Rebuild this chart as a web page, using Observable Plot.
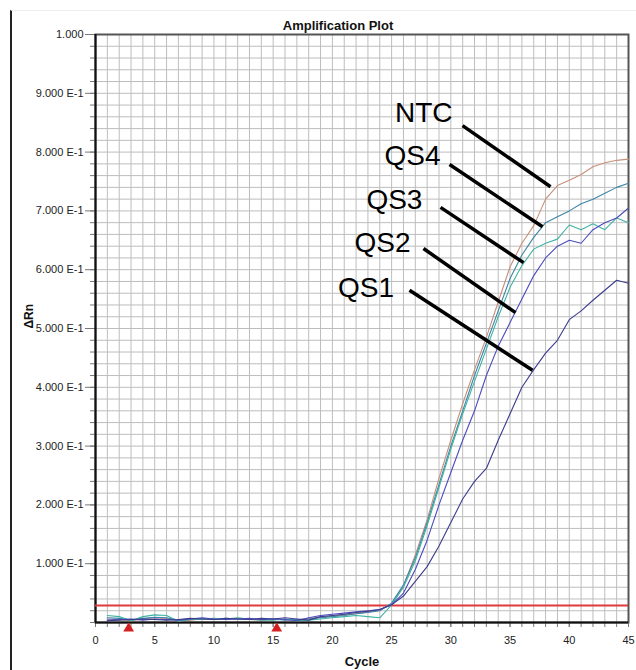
<!DOCTYPE html>
<html>
<head>
<meta charset="utf-8">
<script src="https://cdn.jsdelivr.net/npm/d3@7"></script>
<script src="https://cdn.jsdelivr.net/npm/@observablehq/plot@0.6"></script>
<style>
  html, body { margin: 0; padding: 0; background: #fff; }
  #wrap { position: relative; width: 636px; height: 670px; overflow: hidden; }
  #edge { position: absolute; left: 10px; top: 10px; width: 626px; height: 660px;
          border-left: 2px solid #222; border-top: 1px solid #eeeeee; pointer-events: none; }
  svg { font-family: "Liberation Sans", Arial, sans-serif; }
</style>
</head>
<body>
<div id="wrap"><div id="edge"></div></div>
<script>
// ---- data ----
const cycles = d3.range(1, 46); // cycles 1..45
const seriesNames = ["NTC", "QS4", "QS3", "QS2", "QS1"];
const seriesColors = ["#c8907a", "#3d84a8", "#3fb3a3", "#4b4bbf", "#3c3c8f"];

const ntc = [0.006,0.005,0.003,0.006,0.008,0.007,0.003,0.004,0.006,0.005,0.006,0.007,0.005,0.004,0.006,0.005,0.004,0.007,0.009,0.011,0.013,0.015,0.018,0.021,0.032,0.062,0.115,0.175,0.245,0.31,0.372,0.43,0.485,0.545,0.605,0.645,0.675,0.72,0.743,0.752,0.762,0.775,0.782,0.786,0.788];
const qs4 = [0.008,0.007,0.004,0.007,0.009,0.008,0.004,0.005,0.006,0.006,0.007,0.006,0.005,0.005,0.006,0.004,0.005,0.006,0.008,0.010,0.012,0.015,0.017,0.020,0.033,0.064,0.11,0.17,0.235,0.30,0.36,0.42,0.475,0.53,0.585,0.625,0.655,0.68,0.69,0.70,0.712,0.72,0.73,0.74,0.747];
const qs3 = [0.012,0.010,0.003,0.010,0.013,0.012,0.002,0.005,0.006,0.007,0.006,0.008,0.006,0.004,0.004,0.006,0.003,0.004,0.006,0.008,0.010,0.012,0.010,0.008,0.030,0.060,0.105,0.165,0.23,0.295,0.355,0.41,0.465,0.52,0.57,0.607,0.635,0.645,0.652,0.676,0.668,0.678,0.668,0.688,0.68];
const qs2 = [0.004,0.005,0.006,0.004,0.006,0.005,0.004,0.006,0.008,0.006,0.005,0.006,0.007,0.005,0.006,0.005,0.003,0.008,0.012,0.014,0.016,0.018,0.020,0.022,0.030,0.05,0.09,0.14,0.20,0.255,0.31,0.36,0.42,0.47,0.51,0.55,0.59,0.62,0.64,0.65,0.645,0.668,0.68,0.688,0.705];
const qs1 = [0.003,0.004,0.005,0.006,0.005,0.004,0.005,0.007,0.006,0.005,0.007,0.006,0.005,0.007,0.006,0.008,0.006,0.004,0.010,0.012,0.014,0.017,0.019,0.022,0.030,0.045,0.07,0.095,0.13,0.17,0.21,0.24,0.262,0.31,0.355,0.40,0.43,0.458,0.48,0.515,0.53,0.548,0.565,0.582,0.577];

const threshold = 0.029;
const baselineMarkers = [2.8, 15.3];

const yTickValues = [0.1,0.2,0.3,0.4,0.5,0.6,0.7,0.8,0.9,1.0];
const yTickLabels = ["1.000 E-1","2.000 E-1","3.000 E-1","4.000 E-1","5.000 E-1","6.000 E-1","7.000 E-1","8.000 E-1","9.000 E-1","1.000"];
const xTickValues = [0,5,10,15,20,25,30,35,40,45];

// annotation labels (text end point and leader line, in data units)
const annLabel = ["NTC","QS4","QS3","QS2","QS1"];
const annTextX = [30.14, 29.13, 27.6, 26.6, 25.2];
const annTextY = [0.867, 0.794, 0.718, 0.645, 0.568];
const annX1 = [30.99, 29.89, 29.13, 27.69, 26.51];
const annY1 = [0.845, 0.779, 0.706, 0.636, 0.565];
const annX2 = [38.42, 37.74, 36.14, 35.46, 36.9];
const annY2 = [0.741, 0.673, 0.612, 0.527, 0.429];

// ---- build tables ----
const seriesValues = [ntc, qs4, qs3, qs2, qs1];
const rows = [];
seriesNames.forEach((name, s) => {
  cycles.forEach((c, i) => rows.push({series: name, cycle: c, value: seriesValues[s][i]}));
});
const ann = annLabel.map((t, i) => ({t, tx: annTextX[i], ty: annTextY[i], x1: annX1[i], y1: annY1[i], x2: annX2[i], y2: annY2[i]}));

const minorX = d3.range(0, 46);
const minorY = d3.range(0, 51).map(i => i * 0.02);

const chart = Plot.plot({
  width: 636,
  height: 670,
  marginTop: 34,
  marginRight: 8,
  marginBottom: 48,
  marginLeft: 95,
  style: {fontFamily: "'Liberation Sans', Arial, sans-serif", background: "transparent"},
  x: {domain: [0, 45]},
  y: {domain: [0, 1]},
  color: {domain: seriesNames, range: seriesColors},
  marks: [
    Plot.gridX(minorX.slice(1, -1), {stroke: "#bdbdbd", strokeOpacity: 1, strokeWidth: 1}),
    Plot.gridY(minorY.slice(1, -1), {stroke: "#bdbdbd", strokeOpacity: 1, strokeWidth: 1}),
    Plot.axisY(minorY, {tickSize: 5, text: null, stroke: "#777"}),
    Plot.axisY(yTickValues, {
      tickSize: 10, tickPadding: 2, stroke: "#777", fontSize: 11, fill: "#222", label: null,
      tickFormat: d => yTickLabels[yTickValues.findIndex(v => Math.abs(v - d) < 1e-9)]
    }),
    Plot.axisX(minorX, {tickSize: 5, text: null, stroke: "#777"}),
    Plot.axisX(xTickValues, {tickSize: 5, tickPadding: 9, stroke: "#777", fontSize: 11, fill: "#222", label: null}),
    Plot.frame({stroke: "#555", strokeWidth: 2}),
    Plot.ruleX([0], {stroke: "#111", strokeWidth: 2}),
    Plot.ruleY([0], {stroke: "#111", strokeWidth: 2}),
    Plot.ruleY([threshold], {stroke: "#e23a3a", strokeWidth: 2}),
    Plot.line(rows, {x: "cycle", y: "value", z: "series", stroke: "series", strokeWidth: 1.1}),
    Plot.dot(baselineMarkers, {x: d => d, y: 0, dy: 6, symbol: "triangle", r: 4, fill: "#d42020", stroke: "none"}),
    Plot.link(ann, {x1: "x1", y1: "y1", x2: "x2", y2: "y2", stroke: "#000", strokeWidth: 3.5}),
    Plot.text(ann, {x: "tx", y: "ty", text: "t", textAnchor: "end", lineAnchor: "middle", fontSize: 28, fill: "#000"}),
    Plot.text(["Amplification Plot"], {frameAnchor: "top", dx: -24, dy: -9, lineAnchor: "middle", fontSize: 13, fontWeight: "bold", fill: "#111"}),
    Plot.text(["Cycle"], {frameAnchor: "bottom", dy: 39, lineAnchor: "middle", fontSize: 13, fontWeight: "bold", fill: "#111"}),
    Plot.text(["ΔRn"], {frameAnchor: "left", dx: -66, rotate: -90, lineAnchor: "middle", fontSize: 12, fontWeight: "bold", fill: "#111"})
  ]
});
chart.style.position = "absolute";
chart.style.left = "0px";
chart.style.top = "0px";
document.getElementById("wrap").appendChild(chart);
</script>
</body>
</html>
